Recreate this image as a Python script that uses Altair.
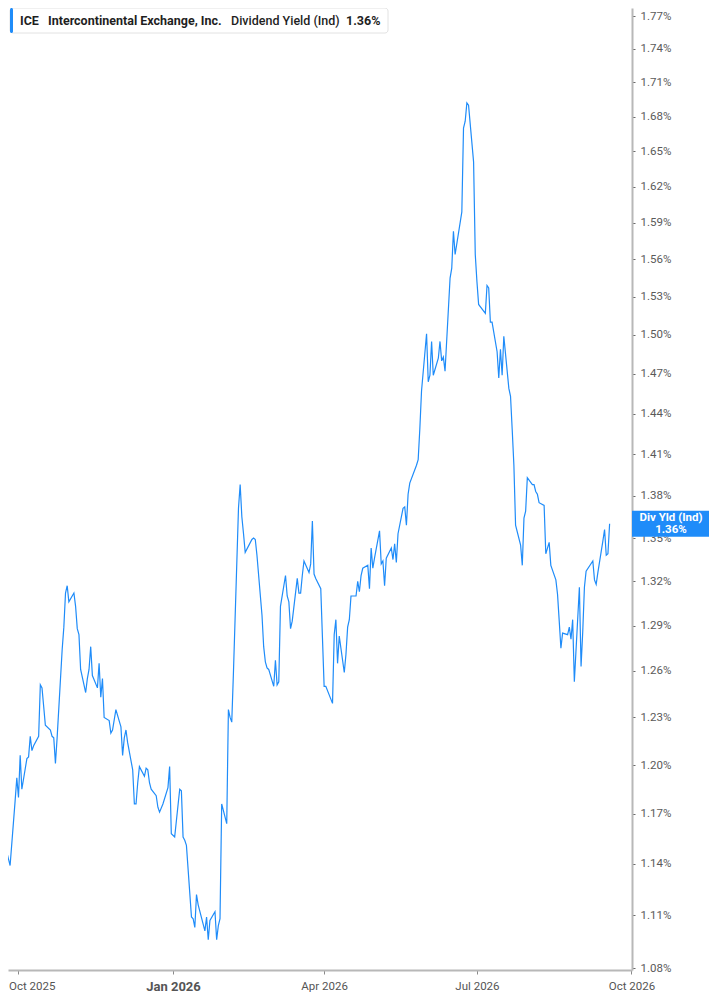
import altair as alt
import pandas as pd

# ---------------- data ----------------
HOLIDAYS = ["2025-11-27", "2025-12-25", "2026-01-01", "2026-01-19", "2026-02-16",
            "2026-04-03", "2026-05-25", "2026-06-19", "2026-07-03", "2026-09-07"]
START_DATE = "2025-09-19"
END_DATE = "2026-09-18"

YIELD = [
    1.129, 1.141, 1.142, 1.147, 1.143, 1.139, 1.178, 1.192, 1.180, 1.206,
    1.185, 1.204, 1.205, 1.218, 1.209, 1.212, 1.218, 1.251, 1.249, 1.237,
    1.225, 1.222, 1.218, 1.217, 1.201, 1.217, 1.274, 1.289, 1.312, 1.317,
    1.306, 1.312, 1.303, 1.288, 1.284, 1.261, 1.246, 1.255, 1.261, 1.276,
    1.257, 1.249, 1.265, 1.243, 1.255, 1.230, 1.228, 1.220, 1.222, 1.235,
    1.224, 1.206, 1.217, 1.222, 1.214, 1.197, 1.176, 1.176, 1.189, 1.199,
    1.193, 1.198, 1.197, 1.189, 1.185, 1.181, 1.174, 1.171, 1.176, 1.186,
    1.199, 1.158, 1.156, 1.185, 1.184, 1.156, 1.154, 1.151, 1.109, 1.108,
    1.103, 1.122, 1.116, 1.101, 1.109, 1.096, 1.107, 1.112, 1.096, 1.104,
    1.108, 1.176, 1.164, 1.235, 1.230, 1.227, 1.259, 1.371, 1.388, 1.365,
    1.353, 1.340, 1.349, 1.350, 1.349, 1.338, 1.297, 1.276, 1.266, 1.262,
    1.261, 1.250, 1.267, 1.251, 1.253, 1.303, 1.324, 1.310, 1.306, 1.288,
    1.293, 1.322, 1.312, 1.312, 1.324, 1.334, 1.326, 1.332, 1.362, 1.325,
    1.322, 1.315, 1.282, 1.250, 1.250, 1.239, 1.284, 1.294, 1.265, 1.283,
    1.259, 1.271, 1.289, 1.294, 1.310, 1.310, 1.320, 1.313, 1.324, 1.329,
    1.331, 1.315, 1.343, 1.329, 1.336, 1.355, 1.332, 1.334, 1.317, 1.336,
    1.343, 1.335, 1.346, 1.333, 1.353, 1.371, 1.372, 1.359, 1.381, 1.389,
    1.402, 1.406, 1.429, 1.457, 1.501, 1.464, 1.469, 1.495, 1.469, 1.482,
    1.495, 1.480, 1.483, 1.472, 1.545, 1.553, 1.583, 1.564, 1.599, 1.670,
    1.676, 1.692, 1.690, 1.641, 1.564, 1.542, 1.524, 1.517, 1.539, 1.537,
    1.510, 1.510, 1.487, 1.467, 1.489, 1.469, 1.499, 1.459, 1.453, 1.428,
    1.402, 1.359, 1.345, 1.331, 1.364, 1.369, 1.393, 1.388, 1.388, 1.383,
    1.381, 1.375, 1.373, 1.339, 1.343, 1.347, 1.331, 1.321, 1.311, 1.293,
    1.275, 1.285, 1.284, 1.289, 1.281, 1.294, 1.253, 1.316, 1.263, 1.286,
    1.316, 1.327, 1.334, 1.321, 1.318, 1.326, 1.348, 1.356, 1.338, 1.339, 1.360,
]

Y_TICKS = [1.08, 1.11, 1.14, 1.17, 1.20, 1.23, 1.26, 1.29, 1.32, 1.35, 1.38, 1.41,
           1.44, 1.47, 1.50, 1.53, 1.56, 1.59, 1.62, 1.65, 1.68, 1.71, 1.74, 1.77]
X_TICKS = [(2025, 10), (2026, 1), (2026, 4), (2026, 7), (2026, 10)]

TICKER = "ICE"
COMPANY = "Intercontinental Exchange, Inc."
METRIC = "Dividend Yield (Ind)"
LAST_LABEL = "1.36%"
TAG_LINES = ["Div Yld (Ind)", "1.36%"]

# ---------------- tables ----------------
dates = pd.bdate_range(START_DATE, END_DATE, freq="C", holidays=HOLIDAYS)
df = pd.DataFrame({"date": dates.strftime("%Y-%m-%d")[: len(YIELD)], "value": YIELD[: len(dates)]})
last_df = pd.DataFrame({"value": [YIELD[-1]]})
one = pd.DataFrame({"k": [0]})

BLUE = "#1f8cf9"
W, H = 624, 962

x_scale = alt.Scale(
    type="utc",
    domain=[alt.DateTime(year=2025, month=9, date=24, hours=18, utc=True),
            alt.DateTime(year=2026, month=10, date=1, hours=8, utc=True)],
    nice=False,
)
y_scale = alt.Scale(type="log", domain=[1.0789, 1.7774], nice=False, zero=False)

FIRST = "utcyear(datum.value) === 2025"
JAN = "utcmonth(datum.value) === 0"

x_axis = alt.Axis(
    values=[alt.DateTime(year=y, month=m, date=1, utc=True) for y, m in X_TICKS],
    labelExpr="utcFormat(datum.value, '%b %Y')",
    labelFont="Roboto",
    labelFontSize={"condition": {"test": JAN, "value": 13}, "value": 11.5},
    labelFontWeight={"condition": {"test": JAN, "value": "bold"}, "value": "normal"},
    labelAlign={"condition": {"test": FIRST, "value": "left"}, "value": "center"},
    labelOffset={"condition": {"test": FIRST, "value": -10}, "value": 0},
    labelColor="#555555",
    labelPadding=6,
    labelFlush=False,
    labelOverlap=False,
    tickSize=4,
    tickColor="#8a8a8a",
    domainColor="#b8b8b8",
    domainWidth=2,
    grid=False,
    title=None,
)
y_axis = alt.Axis(
    orient="right",
    values=Y_TICKS,
    labelExpr="format(datum.value, '.2f') + '%'",
    labelFont="Roboto",
    labelFontSize=11.5,
    labelColor="#5a5a5a",
    labelPadding=5,
    labelOverlap=False,
    labelFlush=False,
    tickSize=3,
    tickColor="#6a6a6a",
    domainColor="#b8b8b8",
    domainWidth=2,
    grid=False,
    title=None,
)

Y_ENC = alt.Y("value:Q", scale=y_scale, axis=y_axis)

line = alt.Chart(df).mark_line(color=BLUE, strokeWidth=1.2, clip=True).encode(
    x=alt.X("date:T", scale=x_scale, axis=x_axis),
    y=Y_ENC,
)

tag_rect = alt.Chart(last_df).mark_rect(color=BLUE, yOffset=-13, y2Offset=13).encode(
    x=alt.value(W), x2=alt.value(701),
    y=Y_ENC, y2=alt.Y2("value"),
)
tag_t1 = alt.Chart(last_df).mark_text(
    text=TAG_LINES[0], color="white", font="Roboto", fontSize=11.5, fontWeight="bold",
    align="center", baseline="middle", dy=-6,
).encode(x=alt.value(663), y=Y_ENC)
tag_t2 = alt.Chart(last_df).mark_text(
    text=TAG_LINES[1], color="white", font="Roboto", fontSize=11.5, fontWeight="bold",
    align="center", baseline="middle", dy=6,
).encode(x=alt.value(663), y=Y_ENC)

leg_box = alt.Chart(one).mark_rect(fill="white", stroke="#e2e2e2", strokeWidth=1, cornerRadius=3).encode(
    x=alt.value(2), x2=alt.value(380), y=alt.value(0), y2=alt.value(25)
)
leg_bar = alt.Chart(one).mark_rect(fill=BLUE, cornerRadius=1.5).encode(
    x=alt.value(2), x2=alt.value(5), y=alt.value(0), y2=alt.value(25)
)


def leg_text(txt, x, weight):
    return alt.Chart(one).mark_text(
        text=txt, font="Roboto", fontSize=12.5, fontWeight=weight, color="#1f1f1f",
        align="left", baseline="middle",
    ).encode(x=alt.value(x), y=alt.value(13))


chart = alt.layer(
    line, tag_rect, tag_t1, tag_t2,
    leg_box, leg_bar,
    leg_text(TICKER, 12, 700),
    leg_text(COMPANY, 40, 700),
    leg_text(METRIC, 223, 500),
    leg_text(LAST_LABEL, 338, 700),
).properties(
    width=W, height=H,
    padding={"left": 0, "top": 0, "right": 77, "bottom": 24},
    autosize=alt.AutoSizeParams(type="none"),
).configure_view(stroke="transparent")

chart.save("out.html", embed_options={"renderer": "svg", "actions": False})
